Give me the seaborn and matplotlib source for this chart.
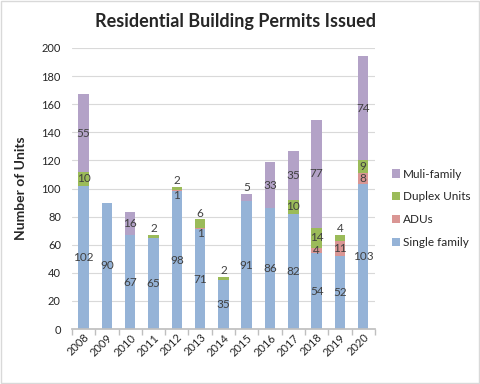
import numpy as np
import pandas as pd
import matplotlib
matplotlib.use("Agg")
import matplotlib.pyplot as plt
import seaborn as sns

years = ["2008", "2009", "2010", "2011", "2012", "2013", "2014",
         "2015", "2016", "2017", "2018", "2019", "2020"]
single_family = [102, 90, 67, 65, 98, 71, 35, 91, 86, 82, 54, 52, 103]
adus = [0, 0, 0, 0, 1, 1, 0, 0, 0, 0, 4, 11, 8]
duplex = [10, 0, 0, 2, 2, 6, 2, 0, 0, 10, 14, 4, 9]
multi_family = [55, 0, 16, 0, 0, 0, 0, 5, 33, 35, 77, 0, 74]

series = [("Single family", single_family, "#95B3D7"),
          ("ADUs", adus, "#DA9694"),
          ("Duplex Units", duplex, "#9BBB59"),
          ("Muli-family", multi_family, "#B3A2C7")]

sns.set_theme(style="whitegrid")
plt.rcParams["font.family"] = ["Lato", "DejaVu Sans"]

fig = plt.figure(figsize=(4.8, 3.84), dpi=100)
ax = fig.add_axes([0.15, 0.143, 0.631, 0.732])

df = pd.DataFrame({"Year": years})
bottom = np.zeros(len(years))
totals = np.sum([s[1] for s in series], axis=0)
for name, vals, color in series:
    sns.barplot(x=df["Year"], y=vals, bottom=bottom, color=color, width=0.45,
                ax=ax, label=name, saturation=1, linewidth=0)
    for i, v in enumerate(vals):
        if v == 0:
            continue
        top = bottom[i] + v
        if top == totals[i] and v <= 6:
            y, va = top + 0.5, "bottom"
        elif v <= 2:
            y, va = top, "top"
        else:
            y, va = bottom[i] + v / 2, "center"
        ax.text(i, y, str(v), ha="center", va=va, fontsize=8.5, color="#404040")
    bottom = bottom + np.array(vals)

ax.set_ylim(0, 200)
ax.set_xlim(-0.5, len(years) - 0.5)
ax.set_yticks(range(0, 201, 20))
ax.grid(axis="y", color="#D9D9D9", linewidth=0.8)
ax.grid(axis="x", visible=False)
for s in ["top", "right", "left"]:
    ax.spines[s].set_visible(False)
ax.spines["bottom"].set_color("#BFBFBF")
ax.set_xticks(np.arange(-0.5, len(years), 1), minor=True)
ax.tick_params(axis="x", which="minor", length=4, color="#BFBFBF", bottom=True)
ax.tick_params(axis="x", which="major", length=0, labelsize=8, rotation=45, pad=2)
ax.tick_params(axis="y", length=0, labelsize=8, pad=8)
for lbl in ax.get_xticklabels():
    lbl.set_ha("right")
    lbl.set_rotation_mode("anchor")
ax.set_xlabel("")
ax.set_ylabel("Number of Units", fontsize=10, fontweight="bold", labelpad=10)
fig.text(0.49, 0.943, "Residential Building Permits Issued", ha="center", va="center",
         fontsize=13, fontweight="bold")

handles, labels = ax.get_legend_handles_labels()
ax.legend(handles[::-1], labels[::-1], loc="center left", bbox_to_anchor=(1.02, 0.43),
          frameon=False, fontsize=8.5, handlelength=0.7, handleheight=0.7,
          handletextpad=0.3, labelspacing=1.0)

fig.patches.append(plt.Rectangle((0.002, 0.002), 0.995, 0.995, transform=fig.transFigure,
                                 fill=False, edgecolor="#D9D9D9", linewidth=1))
fig.savefig("out.png", dpi=100)
